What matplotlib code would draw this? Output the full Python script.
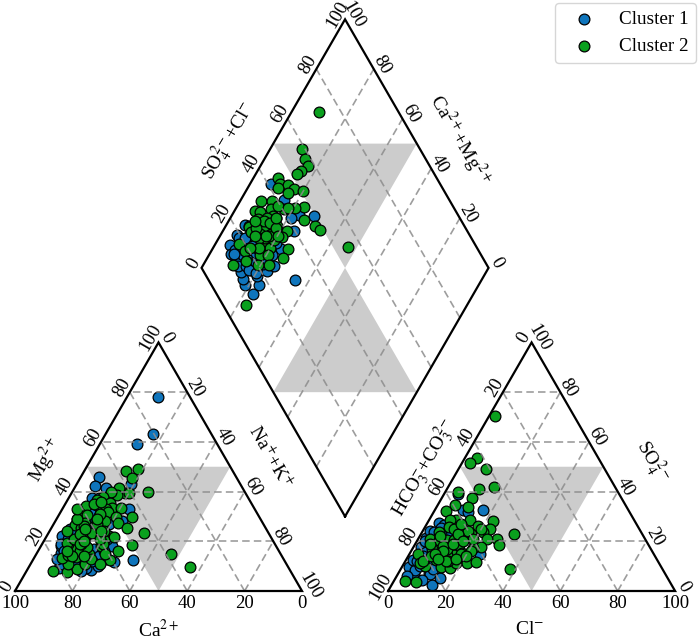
import numpy as np
import matplotlib
matplotlib.use('Agg')
import matplotlib.pyplot as plt

plt.rcParams['font.family'] = ['Liberation Serif', 'DejaVu Serif']
plt.rcParams['mathtext.fontset'] = 'stix'

# cation triangle, percent
cat_ca_1 = [11.2, 20.3, 28, 47.9, 50.9, 47.6, 38, 54.3, 52.6, 59.5, 61.9, 64.6, 69.3, 70.4, 73.1, 80, 76.4, 72.4,
            68.6, 70.5, 68, 57, 57.4, 43.9, 48.5, 56.2, 57.3, 66, 64, 62, 74, 72, 68, 66, 71, 60, 55, 52, 78, 75,
            51.9, 58.2, 53.8, 64.3, 74.7, 72.3, 63.7, 73.7, 74.9, 79, 71, 67, 61]
cat_mg_1 = [77.9, 63, 59, 45.9, 42.3, 41.6, 42.9, 37.6, 12.5, 11.7, 13, 13.4, 8.3, 9.4, 8, 9.4, 15.4, 22.1,
            24.8, 21.5, 22.8, 18.1, 20.8, 32.9, 28.2, 25.5, 31.5, 20, 17, 24, 12, 17, 15, 10, 20, 27, 29, 36, 11, 18,
            37.6, 30.9, 26.8, 23.5, 18.8, 10.7, 14.1, 11.4, 16.1, 13, 21, 12, 16]
cat_ca_2 = [82.9, 78, 74, 76, 76.8, 74.2, 71.7, 71.6, 69.3, 66.8, 65.9, 72, 65, 61.5, 59.1, 56.2, 54.6, 32.6, 37.1,
            36.6, 33.7, 41.9, 43.1, 45, 46.7, 40.5, 50.3, 53.3, 54, 49, 58.3, 49.5, 52, 46.5, 51.7, 61.5, 59.5, 55.6,
            49.7, 44.2, 63.7, 54.7, 62, 58.3, 50.4, 65.9, 64.3, 48.2, 43.5, 50, 38.3, 34.2, 72, 67.7, 58.8, 61.1, 60.5,
            69, 63, 57, 60, 66, 56, 70, 68, 64, 62, 60, 58, 55, 73, 67, 74, 70, 66, 63, 58, 55, 52, 69, 65, 61, 57]
cat_mg_2 = [7.9, 7.6, 8.7, 11, 13.4, 14.5, 13.8, 16.8, 16.1, 14.8, 17.8, 18.8, 21.2, 23.2, 22.1, 22.1, 21.9, 49.1, 48.2,
            45.5, 40, 39.6, 41.3, 38.6, 40, 39.6, 37.8, 36.5, 34.6, 35.5, 34.2, 33.5, 32.9, 33.3, 31.8, 31.1, 30.6, 30.2,
            29.9, 29.8, 29.1, 28.2, 27.2, 27.1, 27.5, 26.4, 25.5, 25.4, 23.2, 18.5, 15, 9.7, 19.5, 18.8, 20.4, 18.1, 12.5,
            21, 26, 24, 19, 23, 16, 11, 19, 29, 33, 21, 27, 31, 14, 13, 16, 24, 20, 25, 24, 35, 36, 14, 11, 15, 29]

# anion triangle, percent
an_cl_1 = [13.9, 15.4, 10.7, 5.5, 2.4, 5.2, 2.4, 2.5, 2.5, 2.5, 4.2, 6.2, 9.9, 12, 16.8, 4.9, 24.4, 3.5, 7.5, 5.2,
           4, 5.8, 9, 6, 8, 12, 11, 4, 7, 14, 3, 9, 6, 11, 8, 3.5, 5, 7, 9.5, 10.5]
an_so_1 = [2.5, 5.4, 7.1, 7.1, 9.8, 8.5, 12.5, 17.8, 21.2, 24.1, 27.2, 26.6, 32.6, 31.9, 32.7, 38.9, 14.9, 14.5, 12.5,
           15.8, 23.9, 25.2, 21, 19, 16, 12, 7, 12, 19, 24, 20, 24, 10, 9, 13, 6, 14, 23, 4.5, 26]
an_cl_2 = [38, 2, 4.2, 2.7, 9.7, 16, 11.2, 4.3, 10.7, 11, 5.9, 4, 32.5, 22.3, 14.2, 9.4, 7.3, 18, 23.1, 21, 27.7, 29.3,
           24, 17.4, 23.4, 20.9, 5.9, 8.4, 10.6, 4.2, 10.1, 15.4, 9.1, 6.7, 2.8, 9.3, 15.7, 18.3, 13.4, 10.5, 7.8, 5.4,
           13.7, 16.7, 17.9, 22, 24.6, 3.9, 7.9, 14.7, 12.7, 7.5, 12, 16, 19, 6, 10, 13, 8, 15, 11, 13, 18, 20, 7, 9,
           12, 14, 17, 21, 16, 20, 5, 11]
an_so_2 = [8.7, 70.4, 53.4, 51.5, 49.1, 41.7, 41, 40, 37.3, 33.9, 34.6, 32.2, 22.8, 28.3, 28.6, 28.6, 28.6, 26.3, 24.8,
           23.9, 20.8, 18.5, 21.1, 22.8, 17.8, 17.4, 23.9, 25.9, 24.9, 20.9, 20.5, 18.5, 17.4, 16.9, 14.9, 14.5, 14.5,
           15.2, 14.5, 12.5, 10, 11.4, 9.8, 9.4, 11.4, 11.1, 11.8, 4, 3.8, 21.2, 20.5, 20.5, 17, 24, 21, 12, 18, 23, 14,
           12, 16, 19, 15, 25, 22, 15, 27, 12, 13, 16, 20, 14, 19, 13]

# diamond, percent: SO4+Cl and Ca+Mg
dia_a_1 = [30, 12.8, 16.6, 11.8, 12.1, 12.9, 16.9, 17.7, 22.2, 25.7, 14.4, 13, 13.8, 19.1, 23.7, 19.4, 22.7, 19.7,
           16.2, 41.1, 42.6, 49.6, 44.4, 41.3, 39.5, 31.5, 31, 22.1, 23.1, 13, 15.9, 18, 20, 24, 27, 21, 33, 36,
           15, 17, 19, 21, 25, 14, 16, 18, 22, 26]
dia_b_1 = [65.2, 76.8, 76.4, 81.2, 83.3, 85.3, 82.1, 78.9, 76.4, 74.9, 94.8, 92.4, 89.6, 94.3, 93.7, 90.6, 88.1, 86.3,
           89.8, 92.5, 84.8, 71.4, 76.8, 78.9, 75.3, 75.9, 79, 79.3, 89.7, 87.6, 84.7, 84, 82, 80, 78, 86, 81, 84,
           92, 88, 93, 91, 92, 91.5, 83, 80, 84, 88]
dia_a_2 = [72.3, 58.9, 57.9, 57.7, 54.2, 52, 44.8, 44, 46.6, 48, 50.6, 45.2, 42.8, 34.2, 38, 48.1, 44.5, 40.6, 36.2, 29.9,
           31.6, 35.4, 45.4, 32.9, 29.5, 47.9, 48.8, 34.6, 29.6, 24.7, 37.2, 24.5, 27.1, 31.2, 34.2, 55.2, 26.6, 18, 18.5,
           23.3, 27.7, 22.9, 25.5, 33.9, 30.3, 16.9, 11.5, 8.2, 31.1, 31.2, 32.8, 28, 26, 30, 24, 21, 34, 27, 29, 33, 36,
           39, 42, 25, 28, 24, 20]
dia_b_2 = [90.5, 88.9, 85.9, 83.3, 84.8, 85.6, 91.4, 89.6, 86.6, 83.8, 80.2, 85, 89.4, 92.8, 88.8, 76.5, 79.7, 83.2, 87.6, 92.9,
           90.8, 85.6, 74, 87.3, 90.3, 68.9, 66.4, 82.2, 86.4, 91.7, 77.6, 89.9, 86.7, 82.6, 78.2, 53.2, 83, 91.6, 88.3,
           84.1, 80.3, 82.1, 79.5, 73.5, 73.7, 85.7, 89.5, 77, 80.3, 87.6, 85.4, 84, 86, 83, 84, 87, 82, 89, 84, 80, 84,
           86, 82, 88, 91, 77, 81]

ticks = [0, 20, 40, 60, 80, 100]
colors = ['#0f75bc', '#0aa01e']
cluster_names = ['Cluster 1', 'Cluster 2']

S = np.sqrt(3) / 2
GAP = 30
PX = 2.87


def cation_xy(ca, mg):
    ca, mg = np.asarray(ca, float), np.asarray(mg, float)
    return 100 - ca - mg / 2, mg * S


def anion_xy(cl, so):
    cl, so = np.asarray(cl, float), np.asarray(so, float)
    return 100 + GAP + cl + so / 2, so * S


def diamond_xy(a, b):
    a, b = np.asarray(a, float), np.asarray(b, float)
    return 115 + (a - b) / 2, GAP * S + (a + b) * S


fig = plt.figure(figsize=(6.99, 6.42), dpi=100)
ax = fig.add_axes([0, 0, 1, 1])
ax.set_xlim(-15 / PX, (699 - 15) / PX)
ax.set_ylim(-51 / PX, 591 / PX)
ax.axis('off')

# grey regions
grey = '#cccccc'
ax.fill([25, 75, 50], [50 * S, 50 * S, 0], color=grey, lw=0, zorder=1)
ax.fill([155, 205, 180], [50 * S, 50 * S, 0], color=grey, lw=0, zorder=1)
top_y = diamond_xy(75, 75)[1]
low_y = diamond_xy(25, 25)[1]
mid_y = diamond_xy(50, 50)[1]
ax.fill([90, 140, 115], [top_y, top_y, mid_y], color=grey, lw=0, zorder=1)
ax.fill([90, 140, 115], [low_y, low_y, mid_y], color=grey, lw=0, zorder=1)

# grid
grid_kw = dict(color='#8c8c8c', lw=1.2, ls=(0, (4.5, 2.5)), alpha=0.85, zorder=5)
for t in ticks[1:-1]:
    for f in (cation_xy, anion_xy):
        for p, q in [([t, t], [0, 100 - t]), ([0, 100 - t], [t, t]), ([100 - t, 0], [0, 100 - t])]:
            x, y = f(p, q)
            ax.plot(x, y, **grid_kw)
    x, y = diamond_xy([t, t], [0, 100])
    ax.plot(x, y, **grid_kw)
    x, y = diamond_xy([0, 100], [t, t])
    ax.plot(x, y, **grid_kw)

# frames
frame_kw = dict(color='black', lw=1.6, zorder=6, solid_joinstyle='miter')
x, y = cation_xy([100, 0, 0, 100], [0, 0, 100, 0])
ax.plot(x, y, **frame_kw)
x, y = anion_xy([0, 100, 0, 0], [0, 0, 100, 0])
ax.plot(x, y, **frame_kw)
x, y = diamond_xy([0, 0, 100, 100, 0], [0, 100, 100, 0, 0])
ax.plot(x, y, **frame_kw)

# samples
pt_kw = dict(s=60, edgecolors='black', linewidths=0.9, zorder=4)
x, y = cation_xy(cat_ca_1, cat_mg_1)
ax.scatter(x, y, c=colors[0], label=cluster_names[0], **pt_kw)
x, y = anion_xy(an_cl_1, an_so_1)
ax.scatter(x, y, c=colors[0], **pt_kw)
x, y = diamond_xy(dia_a_1, dia_b_1)
ax.scatter(x, y, c=colors[0], **pt_kw)
x, y = cation_xy(cat_ca_2, cat_mg_2)
ax.scatter(x, y, c=colors[1], label=cluster_names[1], **pt_kw)
x, y = anion_xy(an_cl_2, an_so_2)
ax.scatter(x, y, c=colors[1], **pt_kw)
x, y = diamond_xy(dia_a_2, dia_b_2)
ax.scatter(x, y, c=colors[1], **pt_kw)

# tick labels
tick_kw = dict(fontsize=13.5, ha='center', va='center', rotation_mode='anchor')
off = 3.2
nx, ny = off * S, off / 2
for t in ticks:
    # cation
    x, y = cation_xy(t, 0)
    ax.text(x, y - 4.5, str(t), **tick_kw)
    x, y = cation_xy(100 - t, t)
    ax.text(x - nx, y + ny, str(t), rotation=60, **tick_kw)
    x, y = cation_xy(0, 100 - t)
    ax.text(x + nx, y + ny, str(t), rotation=-60, **tick_kw)
    # anion
    x, y = anion_xy(t, 0)
    ax.text(x, y - 4.5, str(t), **tick_kw)
    x, y = anion_xy(0, 100 - t)
    ax.text(x - nx, y + ny, str(t), rotation=60, **tick_kw)
    x, y = anion_xy(100 - t, t)
    ax.text(x + nx, y + ny, str(t), rotation=-60, **tick_kw)
    # diamond
    x, y = diamond_xy(t, 100)
    ax.text(x - nx, y + ny, str(t), rotation=60, **tick_kw)
    x, y = diamond_xy(100, t)
    ax.text(x + nx, y + ny, str(t), rotation=-60, **tick_kw)

# axis titles
title_kw = dict(fontsize=14, ha='center', va='center', rotation_mode='anchor')
ax.text(50, -13.5, r'Ca$^{2+}$', **title_kw)
ax.text(10.5, 45.5, r'Mg$^{2+}$', rotation=60, **title_kw)
ax.text(89, 46.5, r'Na$^{+}$+K$^{+}$', rotation=-60, **title_kw)
ax.text(179.4, -13.3, r'Cl$^{-}$', **title_kw)
ax.text(142.5, 43, r'HCO$_3^{-}$+CO$_3^{2-}$', rotation=60, **title_kw)
ax.text(222, 45, r'SO$_4^{2-}$', rotation=-60, **title_kw)
ax.text(74.6, 157, r'SO$_4^{2-}$+Cl$^{-}$', rotation=60, **title_kw)
ax.text(155, 157, r'Ca$^{2+}$+Mg$^{2+}$', rotation=-60, **title_kw)

fig.legend(loc='upper right', bbox_to_anchor=(0.9985, 0.9985), fontsize=13.8, scatterpoints=1, borderaxespad=0.1,
           handletextpad=0.7, borderpad=0.4, labelspacing=0.5, handlelength=2.2)
fig.savefig('out.png', dpi=100)
